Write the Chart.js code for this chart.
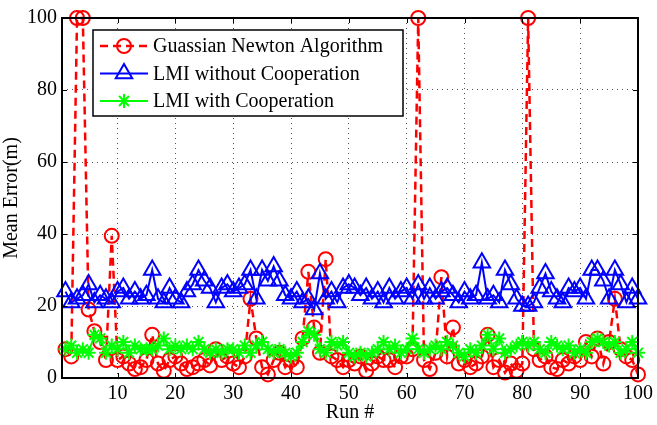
<!DOCTYPE html>
<html>
<head>
<meta charset="utf-8">
<script src="https://cdn.jsdelivr.net/npm/chart.js@4.4.0/dist/chart.umd.min.js"></script>
<style>
html,body{margin:0;padding:0;background:#fff;}
#wrap{width:657px;height:425px;position:relative;}
</style>
</head>
<body>
<div id="wrap"><canvas id="c" width="657" height="425"></canvas></div>
<script>
const runs = Array.from({length:100}, (_, i) => i + 1);
const xTicks = [10,20,30,40,50,60,70,80,90,100];
const yTicks = [0,20,40,60,80,100];
const labels = ["Guassian Newton Algorithm","LMI without Cooperation","LMI with Cooperation"];

const gaussNewton = [
 8,6,100,100,19,13,10,5,39.5,5,
 6,4,2.5,3,5,12,4,2,5,6,
 4,2.5,3,4,5,3.5,8,5,6,4,
 3,6,22,11,3,1,5,7,3,5,
 3,11,29.5,14,7,33,6,5,3,5,
 4,6,2,4,6,5,5,3,6,6,
 8,100,5,2.5,7,28,6,14,4,5,
 3,4,6,12,3,5,1.5,4,2,4,
 100,8,5,6,3,2.5,5,4,6,5,
 10,6,11,4,10,22,8,6,5,1
];
const lmiNoCoop = [
 24,21,22,23,26,21,23,22,21,24,
 25,22,24,22,23,30,22,21,25,22,
 21,24,26,30,27,25,21,25,26,24,
 25,26,30,22,30,27,31,27,23,22,
 24,21,22,19,29,22,24,21,25,26,
 25,23,25,22,24,21,25,22,24,25,
 22,26,22,25,22,24,25,23,21,24,
 22,23,32,22,23,21,30,26,22,20,
 20,21,25,29,24,22,21,25,24,25,
 22,30,30,27,22,30,26,21,25,22
];
const lmiCoop = [
 8,9,7,8,7,12,11,7,9,8,
 10,7,9,8,8,8,9,11,8,9,
 8,9,8,10,8,7,8,7,8,8,
 7,9,7,9,10,8,7,8,7,6,
 7,10,13,12,8,7,10,9,10,7,
 6,7,6,7,8,10,8,9,7,8,
 11,8,7,8,9,8,10,9,7,6,
 8,7,9,12,8,11,7,8,9,10,
 9,10,8,7,10,9,8,9,7,8,
 7,10,11,10,9,10,7,8,10,7
];

const FONT = "'Liberation Serif', 'DejaVu Serif', serif";
const FS = 20;

function toXY(arr){ return arr.map((v,i)=>({x:runs[i], y:v})); }

const legendPlugin = {
  id:'insideLegend',
  afterDraw(chart){
    const ctx = chart.ctx;
    const ca = chart.chartArea;
    const bx = ca.left + 31, by = ca.top + 12, bw = 310, bh = 86;
    ctx.save();
    ctx.fillStyle = '#fff';
    ctx.fillRect(bx, by, bw, bh);
    ctx.strokeStyle = '#000';
    ctx.lineWidth = 1.5;
    ctx.strokeRect(bx, by, bw, bh);
    chart.data.datasets.forEach((ds, i) => {
      const y = by + 16 + i * 27.5;
      ctx.save();
      ctx.strokeStyle = ds.borderColor;
      ctx.lineWidth = ds.borderWidth;
      ctx.setLineDash(ds.borderDash || []);
      ctx.beginPath();
      ctx.moveTo(bx + 7, y);
      ctx.lineTo(bx + 55, y);
      ctx.stroke();
      ctx.restore();
      ctx.save();
      ctx.strokeStyle = ds.pointBorderColor;
      ctx.fillStyle = 'rgba(0,0,0,0)';
      ctx.lineWidth = ds.pointBorderWidth;
      Chart.helpers.drawPoint(ctx, {pointStyle: ds.pointStyle, radius: ds.pointRadius, rotation: 0, borderWidth: ds.pointBorderWidth}, bx + 31, y);
      ctx.restore();
      ctx.fillStyle = '#000';
      ctx.font = FS + "px " + FONT;
      ctx.textBaseline = 'middle';
      ctx.textAlign = 'left';
      ctx.fillText(ds.label, bx + 60, y + 1);
    });
    ctx.restore();
  }
};

const boxPlugin = {
  id:'boxTicks',
  afterDatasetsDraw(chart){
    const ctx = chart.ctx;
    const ca = chart.chartArea;
    const xs = chart.scales.x, ys = chart.scales.y;
    ctx.save();
    ctx.strokeStyle = '#000';
    ctx.lineWidth = 1;
    ctx.beginPath();
    xTicks.forEach(v => {
      const px = Math.round(xs.getPixelForValue(v)) + 0.5;
      ctx.moveTo(px, ca.bottom); ctx.lineTo(px, ca.bottom - 5);
      ctx.moveTo(px, ca.top); ctx.lineTo(px, ca.top + 5);
    });
    yTicks.forEach(v => {
      const py = Math.round(ys.getPixelForValue(v)) + 0.5;
      ctx.moveTo(ca.left, py); ctx.lineTo(ca.left + 5, py);
      ctx.moveTo(ca.right, py); ctx.lineTo(ca.right - 5, py);
    });
    ctx.stroke();
    ctx.lineWidth = 2;
    ctx.strokeRect(ca.left, ca.top, ca.right - ca.left, ca.bottom - ca.top);
    ctx.restore();
  }
};

new Chart(document.getElementById('c'), {
  type: 'line',
  data: {
    datasets: [
      {
        label: labels[0], data: toXY(gaussNewton),
        borderColor: '#ff0000', borderWidth: 2.5, borderDash: [8,5],
        pointStyle: 'circle', pointRadius: 7, pointBorderWidth: 2,
        pointBorderColor: '#ff0000', pointBackgroundColor: 'rgba(0,0,0,0)',
        clip: false, order: 3, tension: 0
      },
      {
        label: labels[1], data: toXY(lmiNoCoop),
        borderColor: '#0000ff', borderWidth: 2,
        pointStyle: 'triangle', pointRadius: 9.5, pointBorderWidth: 2,
        pointBorderColor: '#0000ff', pointBackgroundColor: 'rgba(0,0,0,0)',
        clip: false, order: 2, tension: 0
      },
      {
        label: labels[2], data: toXY(lmiCoop),
        borderColor: '#00ff00', borderWidth: 2,
        pointStyle: 'star', pointRadius: 7, pointBorderWidth: 2,
        pointBorderColor: '#00ff00', pointBackgroundColor: 'rgba(0,0,0,0)',
        clip: false, order: 1, tension: 0
      }
    ]
  },
  options: {
    responsive: false,
    animation: false,
    layout: { padding: { left: 0, right: 17, top: 18, bottom: 0 } },
    plugins: { legend: { display: false }, tooltip: { enabled: false } },
    scales: {
      x: {
        type: 'linear', min: 0.4, max: 100,
        afterBuildTicks: s => { s.ticks = xTicks.map(v => ({value: v})); },
        afterFit: s => { s.height = 47; },
        grid: { color: '#555', drawTicks: false, lineWidth: 1 },
        border: { display: false, dash: [1,4] },
        ticks: { color: '#000', font: { family: FONT, size: FS }, padding: 4, maxRotation: 0 },
        title: { display: true, text: 'Run #', color: '#000', font: { family: FONT, size: FS }, padding: { top: -2, bottom: 0 } }
      },
      y: {
        type: 'linear', min: 0, max: 100,
        afterBuildTicks: s => { s.ticks = yTicks.map(v => ({value: v})); },
        afterFit: s => { s.width = 62; },
        grid: { color: '#555', drawTicks: false, lineWidth: 1 },
        border: { display: false, dash: [1,4] },
        ticks: { color: '#000', font: { family: FONT, size: FS }, padding: 5 },
        title: { display: true, text: 'Mean Error(m)', color: '#000', font: { family: FONT, size: FS }, padding: { top: 0, bottom: 0 } }
      }
    }
  },
  plugins: [boxPlugin, legendPlugin]
});
</script>
</body>
</html>
